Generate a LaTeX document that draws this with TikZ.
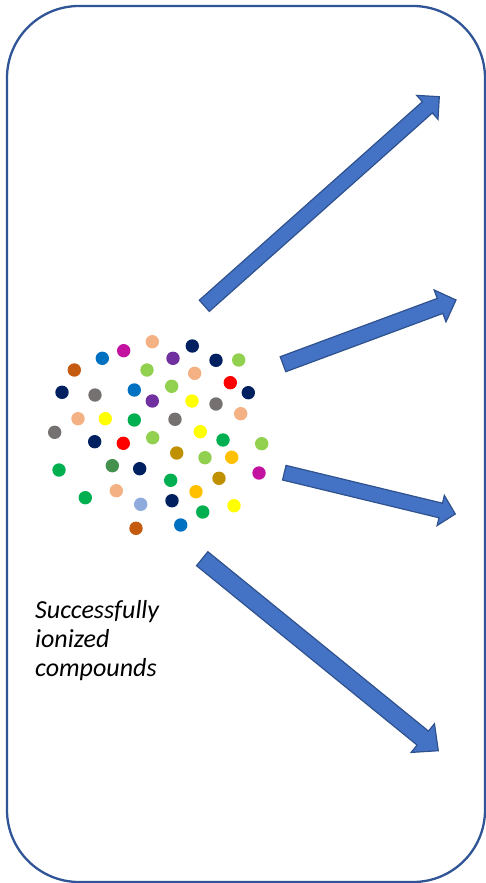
\documentclass[tikz,border=0pt]{standalone}
\usepackage{fontspec}
\setmainfont{Carlito}
\usepackage{tikz}
\usetikzlibrary{
  calc,
  positioning
}
\definecolor{FrameBlue}{RGB}{47,85,151}
\definecolor{ArrowBlue}{RGB}{68,114,196}
\definecolor{ArrowEdge}{RGB}{47,82,143}
\definecolor{IonNavy}{RGB}{0,32,96}
\definecolor{IonPurple}{RGB}{112,48,160}
\definecolor{IonLime}{RGB}{146,208,80}
\definecolor{IonRust}{RGB}{197,90,17}
\definecolor{IonBlue}{RGB}{0,112,192}
\definecolor{IonRed}{RGB}{255,0,0}
\definecolor{IonGray}{RGB}{118,113,113}
\definecolor{IonYellow}{RGB}{255,255,0}
\definecolor{IonGreen}{RGB}{0,176,80}
\definecolor{IonGold}{RGB}{191,144,0}
\definecolor{IonAmber}{RGB}{255,192,0}
\definecolor{IonForest}{RGB}{67,145,76}
\definecolor{IonSky}{RGB}{143,170,220}
\definecolor{IonPeach}{RGB}{244,177,131}
\definecolor{IonMagenta}{RGB}{196,18,160}
\tikzset{
  frame/.style={draw=FrameBlue,line width=2.3pt,rounded corners=72pt},
  ion/.style={circle,inner sep=0pt,minimum size=13.4pt,draw=none},
  blockarrow/.style={draw=ArrowEdge,fill=ArrowBlue,line width=1.2pt,line join=miter},
  caption/.style={align=left,inner sep=0pt,font=\fontsize{26}{29}\selectfont\itshape}
}

\begin{document}
\begin{tikzpicture}[x=1pt,y=-1pt]
\useasboundingbox (0,0) rectangle (486,883);
\draw[frame] (7,6) rectangle (485,882);

% ions
\foreach [count=\n] \x/\y/\c in {
  152.3/341.7/IonPeach, 123.7/350.7/IonMagenta, 102.3/358.3/IonBlue, 192.3/346/IonNavy,
  173/358.3/IonPurple, 216/360.3/IonNavy, 238.7/360/IonLime, 74.3/370/IonRust,
  147/370/IonLime, 194.7/373.3/IonPeach, 230.3/382.7/IonRed, 62/392.3/IonNavy,
  95/395/IonGray, 134.3/390/IonBlue, 171.7/386.3/IonLime, 248.3/392.7/IonNavy,
  152.3/401/IonPurple, 192/401/IonYellow, 216/404/IonGray, 78/418.7/IonPeach,
  105.3/418.7/IonYellow, 134.3/420/IonGreen, 175/419.3/IonGray, 240.7/413.7/IonPeach,
  54.7/432.3/IonGray, 94.7/441.7/IonNavy, 123.3/443.3/IonRed, 152.7/437.7/IonLime,
  200.3/431.7/IonYellow, 223/440/IonGreen, 261.7/443.7/IonLime, 176.7/453/IonGold,
  205/457.7/IonLime, 231.7/457.3/IonAmber, 59/470/IonGreen, 112.3/465.7/IonForest,
  139.7/468.7/IonNavy, 170.7/480.3/IonGreen, 219/478.3/IonGold, 259/473/IonMagenta,
  85.3/497.7/IonGreen, 116.3/490.7/IonPeach, 140.7/504.3/IonSky, 172/500.7/IonNavy,
  196/491.7/IonAmber, 202.7/512/IonGreen, 234/505.7/IonYellow, 136/528.3/IonRust,
  180.7/525/IonBlue}
  \node[ion,fill=\c] (ion\n) at (\x,\y) {};

\node[caption,anchor=north west] (label) at (35,600) {Successfully\\ionized\\compounds};

% arrows: tail and tip
\coordinate (t1) at (204.3,305.8); \coordinate (p1) at (439.3,96.7);
\coordinate (t2) at (283,364.2);   \coordinate (p2) at (456,300);
\coordinate (t3) at (284.3,472.7); \coordinate (p3) at (455.3,514);
\coordinate (t4) at (202.2,558.7); \coordinate (p4) at (438.3,750.7);

\foreach \i/\s/\h/\l in {1/7.5/16/16, 2/8/17/17, 3/7.5/15.5/15, 4/9/18.5/20} {
  \coordinate (b\i) at ($(p\i)!\l pt!(t\i)$);
  \draw[blockarrow]
    ($(t\i)!\s pt!90:(p\i)$) -- ($(b\i)!\s pt!-90:(t\i)$) -- ($(b\i)!\h pt!-90:(t\i)$)
    -- (p\i) -- ($(b\i)!\h pt!90:(t\i)$) -- ($(b\i)!\s pt!90:(t\i)$)
    -- ($(t\i)!\s pt!-90:(p\i)$) -- cycle;
}
\end{tikzpicture}
\end{document}
